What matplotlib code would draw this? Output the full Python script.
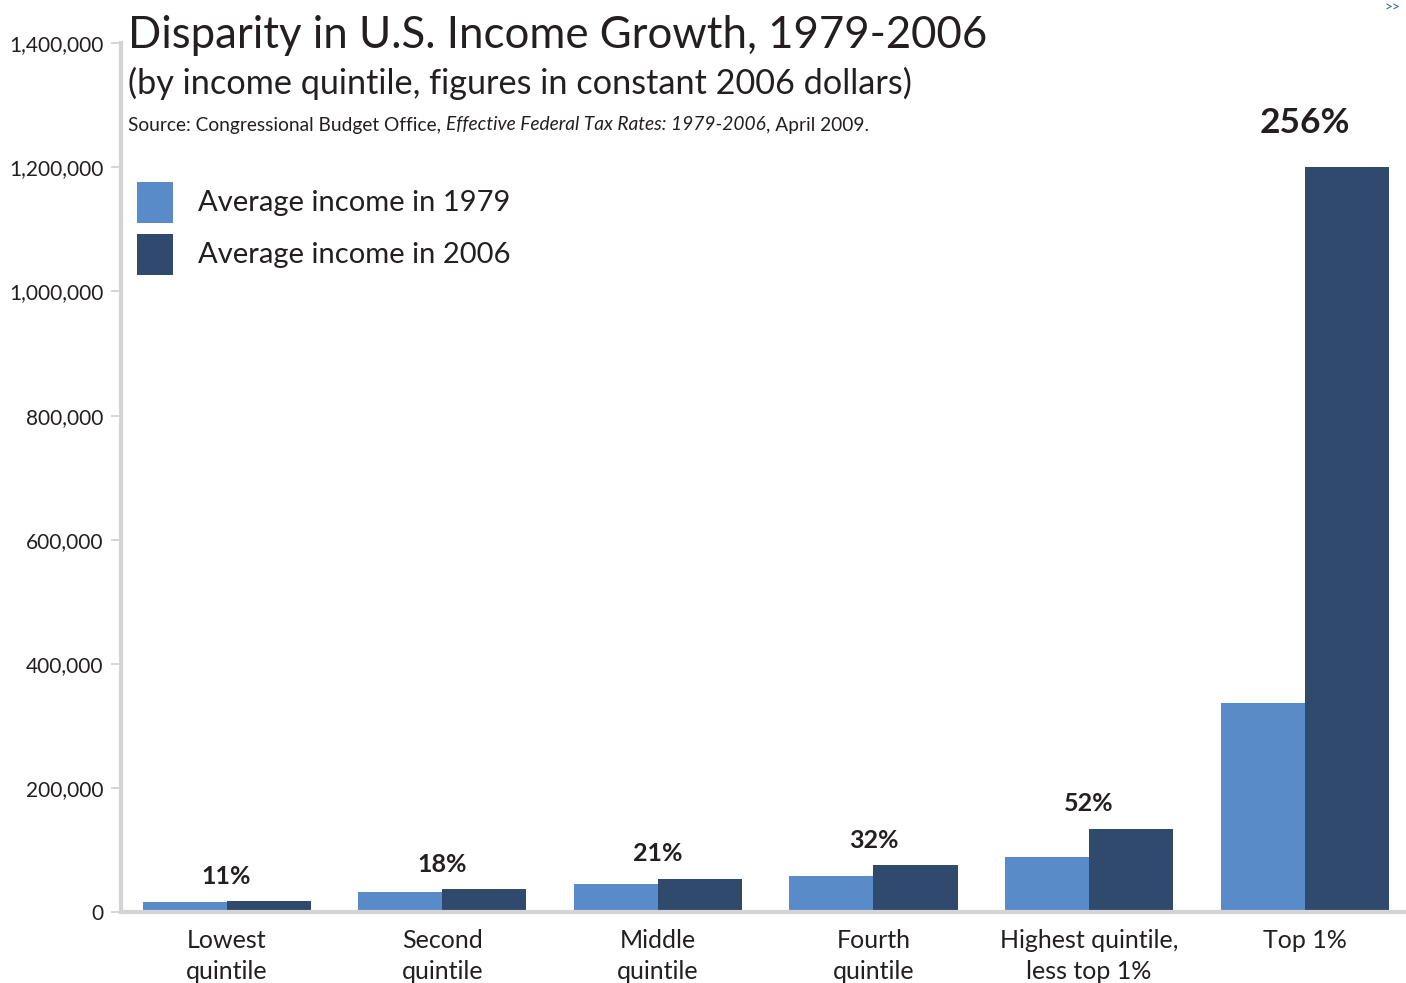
import matplotlib
matplotlib.use("Agg")
import matplotlib.pyplot as plt
import numpy as np
from matplotlib.patches import Rectangle
from matplotlib.ticker import FuncFormatter

plt.rcParams['font.family'] = ['Lato', 'DejaVu Sans']

categories = ["Lowest\nquintile", "Second\nquintile", "Middle\nquintile",
              "Fourth\nquintile", "Highest quintile,\nless top 1%", "Top 1%"]
income_1979 = [15500, 31500, 44500, 57500, 88000, 337000]
income_2006 = [17500, 37000, 53800, 75700, 134000, 1200000]
growth_labels = ["11%", "18%", "21%", "32%", "52%", "256%"]
yticks = [0, 200000, 400000, 600000, 800000, 1000000, 1200000, 1400000]

C1979 = "#5a8bc9"
C2006 = "#2f4a6c"
TXT = "#231f20"
GRID = "#d4d4d4"

W, H = 1406, 983
fig = plt.figure(figsize=(W / 100, H / 100), dpi=100)

def fx(px):
    return px / W

def fy(py):
    return 1 - py / H

ax = fig.add_axes([fx(121), fy(912), fx(1406) - fx(121), fy(43.3) - fy(912)])

x = np.arange(len(categories))
w = 0.39
ax.bar(x - w / 2, income_1979, w, color=C1979, linewidth=0, zorder=2)
ax.bar(x + w / 2, income_2006, w, color=C2006, linewidth=0, zorder=2)

ax.set_xlim(-0.49, 5.47)
ax.set_ylim(0, 1400000)

for s in ["top", "right"]:
    ax.spines[s].set_visible(False)
for s in ["left", "bottom"]:
    ax.spines[s].set_color(GRID)
    ax.spines[s].set_linewidth(3)
    ax.spines[s].set_zorder(3)

ax.set_yticks(yticks)
ax.yaxis.set_major_formatter(FuncFormatter(lambda v, p: f"{int(v):,}"))
ax.tick_params(axis='y', length=7, width=1.2, color="#cfcfcf", pad=5.5,
               labelsize=15, labelcolor=TXT)
ax.set_xticks(x)
ax.set_xticklabels(categories, fontsize=18, color=TXT, linespacing=1.45)
ax.tick_params(axis='x', length=0, pad=12)

# growth labels
for i, (lab, v) in enumerate(zip(growth_labels, income_2006)):
    big = (i == len(growth_labels) - 1)
    ax.annotate(lab, xy=(x[i], v), xytext=(0, 32 if big else 18),
                textcoords='offset points', ha='center', va='center',
                fontsize=25.5 if big else 18, fontweight='bold', color=TXT,
                annotation_clip=False)

# Title / subtitle
fig.text(fx(128), fy(36), "Disparity in U.S. Income Growth, 1979-2006",
         fontsize=31.5, color=TXT, va='center', ha='left')
fig.text(fx(128), fy(83), "(by income quintile, figures in constant 2006 dollars)",
         fontsize=24.7, color=TXT, va='center', ha='left')

# Source line with italic portion
t1 = fig.text(fx(128), fy(125), "Source: Congressional Budget Office, ",
              fontsize=13.8, color=TXT, va='center', ha='left')
t2 = ax.annotate("Effective Federal Tax Rates: 1979-2006", xy=(1, 0), xycoords=t1,
                 va='bottom', ha='left', fontsize=13.8, fontstyle='italic', color=TXT,
                 annotation_clip=False)
t3 = ax.annotate(", April 2009.", xy=(1, 0), xycoords=t2,
                 va='bottom', ha='left', fontsize=13.8, color=TXT,
                 annotation_clip=False)

# Legend
legend_items = [("Average income in 1979", C1979), ("Average income in 2006", C2006)]
for k, (lab, col) in enumerate(legend_items):
    top = 182 + k * 52
    fig.patches.append(Rectangle((fx(137), fy(top + 41)), fx(36), 41 / H,
                                 transform=fig.transFigure, color=col, linewidth=0))
    fig.text(fx(198), fy(top + 21), lab, fontsize=21, color=TXT, va='center', ha='left')

# corner mark
fig.text(fx(1392), fy(7), ">>", fontsize=10, color="#2a5ea8", ha='center', va='center')

fig.savefig("out.png", dpi=100)
